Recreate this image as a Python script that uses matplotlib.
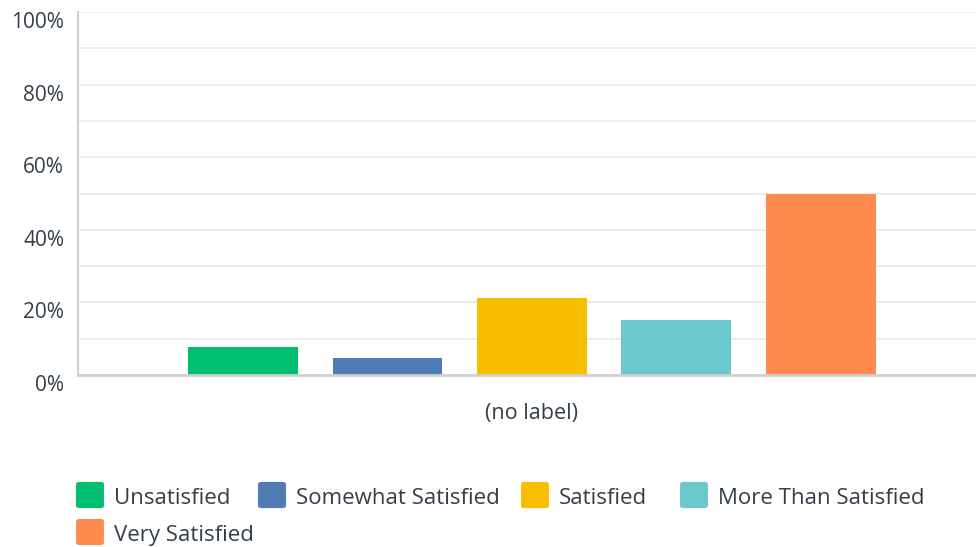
import matplotlib.pyplot as plt
from matplotlib.patches import FancyBboxPatch
from matplotlib.transforms import offset_copy

plt.rcParams['font.family'] = ['Open Sans', 'DejaVu Sans']

# Data
categories = ['Unsatisfied', 'Somewhat Satisfied', 'Satisfied', 'More Than Satisfied', 'Very Satisfied']
values = [7.58, 4.55, 21.21, 15.15, 49.9]
colors = ['#00bf6f', '#507cb6', '#f9be00', '#6bc8cd', '#ff8b4f']
y_ticks = [0, 20, 40, 60, 80, 100]
y_labels = ['0%', '20%', '40%', '60%', '80%', '100%']
x_label = '(no label)'

text_color = '#333e48'

fig = plt.figure(figsize=(9.76, 5.47), dpi=100)
ax = fig.add_axes([78 / 976, 1 - 375 / 547, 1 - 78 / 976, (375 - 12) / 547])

x = list(range(len(categories)))
ax.bar(x, values, width=0.761, color=colors, zorder=3)

xmin, xmax = -1.142, 5.073
ax.set_xlim(xmin, xmax)
ax.set_ylim(0, 100)

# light gridlines every 10%
for g in range(10, 101, 10):
    ax.axhline(g, color='#ebebeb', lw=1.3, zorder=1)

ax.set_yticks(y_ticks)
ax.set_yticklabels(y_labels, fontsize=15, color=text_color)
ax.tick_params(axis='y', length=0, pad=10)
# labels sit a little below their gridline in the original
for lab in ax.get_yticklabels():
    lab.set_transform(offset_copy(lab.get_transform(), fig=fig, x=0, y=-8, units='dots'))
ax.set_xticks([])
ax.set_xlabel(x_label, fontsize=15.5, color=text_color, labelpad=20)
# the axis label is centred on the middle category
ax.xaxis.label.set_x((x[len(x) // 2] - xmin) / (xmax - xmin))

for s in ['top', 'right']:
    ax.spines[s].set_visible(False)
ax.spines['left'].set_color('#cfcfcf')
ax.spines['left'].set_linewidth(1.5)
ax.spines['bottom'].set_color('#cfcfcf')
ax.spines['bottom'].set_linewidth(2)
ax.spines['bottom'].set_zorder(4)

# legend drawn by hand to get the 4 + 1 row layout
legend_pos = [(76, 495), (258, 495), (521, 495), (680, 495), (76, 532)]
sq = 28
W, H = 976, 547
for (lx, ly), name, c in zip(legend_pos, categories, colors):
    fig.patches.append(FancyBboxPatch(
        ((lx + 2) / W, (H - ly - sq / 2 + 2) / H), (sq - 4) / W, (sq - 4) / H,
        boxstyle='round,pad=0.002,rounding_size=0.004',
        transform=fig.transFigure, facecolor=c, edgecolor='none'))
    fig.text((lx + sq + 10) / W, (H - ly - 4) / H, name, fontsize=16,
             color=text_color, va='center', ha='left')

fig.savefig('out.png', dpi=100)
